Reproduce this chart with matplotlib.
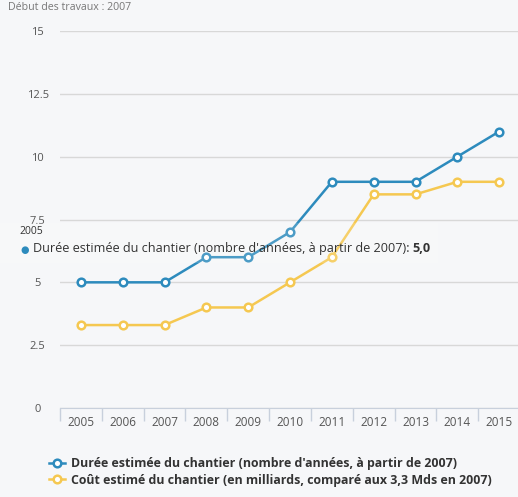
import matplotlib
matplotlib.use('Agg')
from matplotlib import pyplot as plt
from matplotlib.patches import Rectangle

plt.rcParams['font.family'] = ['Open Sans', 'DejaVu Sans']

years = ['2005', '2006', '2007', '2008', '2009', '2010', '2011', '2012', '2013', '2014', '2015']
duree = [5, 5, 5, 6, 6, 7, 9, 9, 9, 10, 11]
cout = [3.3, 3.3, 3.3, 4, 4, 5, 6, 8.5, 8.5, 9, 9]
yticks = [0, 2.5, 5, 7.5, 10, 12.5, 15]
ytick_labels = ['0', '2.5', '5', '7.5', '10', '12.5', '15']

label_duree = "Durée estimée du chantier (nombre d'années, à partir de 2007)"
label_cout = "Coût estimé du chantier (en milliards, comparé aux 3,3 Mds en 2007)"

bg = '#f6f7f9'
blue = '#2d8bbd'
yellow = '#f5c851'

fig = plt.figure(figsize=(5.18, 4.97), dpi=100, facecolor=bg)
ax = fig.add_axes([60 / 518, 1 - 408 / 497, 458 / 518, 377 / 497])
ax.set_facecolor(bg)

x = list(range(len(years)))
ax.plot(x, cout, color=yellow, lw=1.8, marker='o', ms=5.5, mfc='white',
        mec=yellow, mew=1.8, label=label_cout, zorder=3)
ax.plot(x, duree, color=blue, lw=1.8, marker='o', ms=5.5, mfc='white',
        mec=blue, mew=1.8, label=label_duree, zorder=4)

ax.set_xlim(-0.5, len(years) - 0.55)
ax.set_ylim(0, 15)

# grid lines
ax.set_yticks(yticks)
ax.set_yticklabels(ytick_labels, color='#555555', fontsize=8)
ax.yaxis.grid(True, color='#d8d8d8', lw=1)
ax.tick_params(axis='y', length=0, pad=16)
for lab in ax.get_yticklabels():
    lab.set_horizontalalignment('center')

# category ticks at boundaries
ax.set_xticks([i - 0.5 for i in x])
ax.set_xticklabels([])
ax.set_xticks(x, minor=True)
ax.set_xticklabels(years, minor=True, color='#555555', fontsize=8.5)
ax.tick_params(axis='x', which='major', length=9, color='#c8d0dc', width=1)
ax.tick_params(axis='x', which='minor', length=0, pad=6)

for s in ['top', 'right', 'left']:
    ax.spines[s].set_visible(False)
ax.spines['bottom'].set_color('#c8d0dc')
ax.set_axisbelow(True)

# header
fig.text(8 / 518, 1 - 7 / 497, 'Début des travaux : 2007', fontsize=7.7,
         color='#777777', va='center', ha='left')

# legend
handles, labels = ax.get_legend_handles_labels()
leg = fig.legend(handles[::-1], labels[::-1], loc='upper left',
                 bbox_to_anchor=(44 / 518, 1 - 452 / 497), frameon=False,
                 prop={'weight': 'bold', 'size': 8.9}, labelcolor='#333333',
                 handlelength=1.3, handletextpad=0.45, labelspacing=0.3,
                 borderaxespad=0)

# tooltip
fig.patches.append(Rectangle((0, 1 - 263 / 497), 438 / 518, 40 / 497,
                             transform=fig.transFigure, facecolor='white',
                             alpha=0.15, edgecolor='none', zorder=5))
fig.text(19 / 518, 1 - 232 / 497, '2005', fontsize=7.5, color='#333333',
         va='center', ha='left', zorder=6)
fig.text(20 / 518, 1 - 250 / 497, '●', fontsize=7, color=blue,
         va='center', ha='left', zorder=6, family='DejaVu Sans')
t = fig.text(33 / 518, 1 - 249 / 497, label_duree + ': ', fontsize=9.1,
             color='#333333', va='center', ha='left', zorder=6)
fig.canvas.draw()
bb = t.get_window_extent()
fig.text(bb.x1 / fig.bbox.width, 1 - 249 / 497, '5,0', fontsize=9.1,
         color='#333333', weight='bold', va='center', ha='left', zorder=6)

fig.savefig('out.png', dpi=100, facecolor=bg)
